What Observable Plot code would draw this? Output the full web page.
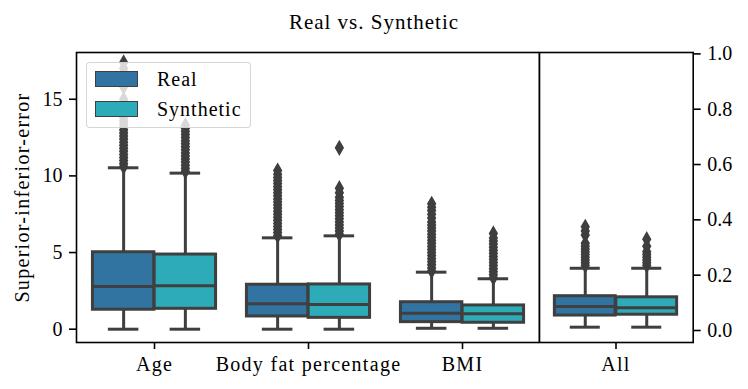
<!DOCTYPE html>
<html><head><meta charset="utf-8">
<script src="https://cdn.jsdelivr.net/npm/d3@7"></script>
<script src="https://cdn.jsdelivr.net/npm/@observablehq/plot@0.6"></script>
<style>
body{margin:0;background:#fff;font-family:"Liberation Serif",serif;}
#fig{position:relative;width:748px;height:389px;overflow:hidden;}
#title{height:40px;text-align:center;font-size:21px;letter-spacing:1px;line-height:36px;padding-top:4px;box-sizing:border-box;color:#000;}
#row{display:flex;align-items:flex-start;}
#legend{position:absolute;left:86px;top:62px;width:165px;height:66px;background:rgba(255,255,255,0.8);border:1.5px solid rgba(204,204,204,0.8);border-radius:4px;box-sizing:border-box;}
.item{position:absolute;left:8px;height:16px;}
.sw{position:absolute;left:0;top:0;width:43px;height:16px;box-sizing:border-box;border:1.5px solid #3f3f3f;}
.lab{position:absolute;left:62px;top:-4px;font-size:20px;letter-spacing:1px;line-height:24px;white-space:nowrap;color:#000;}
</style></head><body>
<div id="fig"><div id="title">Real vs. Synthetic</div><div id="row"></div><div id="legend"></div></div>
<script>
const categories = ["Age", "Body fat percentage", "BMI"];
const overallCategory = ["All"];
const groups = ["Real", "Synthetic"];
const colors = ["#3274a1", "#2eabb8"];
const yLabel = "Superior-inferior-error";
const leftTicks = [0, 5, 10, 15];
const rightTicks = [0, 0.2, 0.4, 0.6, 0.8, 1.0];

// box summaries per category: [lower whisker, q1, median, q3, upper whisker]
const realStats = [[0, 1.27, 2.78, 5.02, 10.53], [0, 0.83, 1.66, 2.90, 5.96], [0.06, 0.46, 1.04, 1.76, 3.72]];
const synthStats = [[0, 1.33, 2.83, 4.87, 10.18], [0, 0.74, 1.61, 2.92, 6.09], [0.06, 0.42, 1.00, 1.55, 3.29]];
const allRealStats = [0.012, 0.054, 0.087, 0.124, 0.225];
const allSynthStats = [0.012, 0.057, 0.082, 0.120, 0.225];

// outliers
const ageRealOut = [10.6,10.8,11.0,11.2,11.4,11.6,11.8,12.0,12.2,12.4,12.6,12.8,13.0,13.2,13.4,13.6,13.8,14.0,14.2,14.4,14.6,14.8,15.0,15.8,16.1,16.4,16.7,17.0,17.4];
const ageSynthOut = [10.3,10.5,10.7,10.9,11.1,11.3,11.5,11.7,11.9,12.1,12.3,12.5,12.7,12.9,13.1,13.3];
const bodyRealOut = [6.1,6.3,6.5,6.7,6.9,7.1,7.3,7.5,7.7,7.9,8.1,8.3,8.5,8.7,8.9,9.1,9.3,9.5,9.7,9.9,10.1,10.35];
const bodySynthOut = [6.2,6.4,6.6,6.8,7.0,7.2,7.4,7.6,7.8,8.0,8.2,8.4,8.6,8.9,9.2,11.83];
const bmiRealOut = [3.8,4.0,4.2,4.4,4.6,4.8,5.0,5.2,5.4,5.6,5.8,6.0,6.2,6.4,6.6,6.8,7.0,7.25,7.5,7.75,7.95,8.18];
const bmiSynthOut = [3.35,3.55,3.75,3.95,4.15,4.35,4.55,4.75,4.95,5.15,5.35,5.55,5.75,5.95,6.25];
const allRealOut = [0.235,0.245,0.255,0.265,0.275,0.285,0.295,0.305,0.315,0.345,0.36,0.375];
const allSynthOut = [0.235,0.245,0.255,0.265,0.275,0.285,0.305,0.33];

const realOut = [ageRealOut, bodyRealOut, bmiRealOut];
const synthOut = [ageSynthOut, bodySynthOut, bmiSynthOut];

function statRow(cat, group, s) { return {cat, group, lo: s[0], q1: s[1], med: s[2], q3: s[3], hi: s[4]}; }

const leftRows = [];
const leftOut = [];
categories.forEach((c, i) => {
  leftRows.push(statRow(c, "Real", realStats[i]));
  leftRows.push(statRow(c, "Synthetic", synthStats[i]));
  realOut[i].forEach(v => leftOut.push({cat: c, group: "Real", value: v}));
  synthOut[i].forEach(v => leftOut.push({cat: c, group: "Synthetic", value: v}));
});
const rightRows = [statRow("All", "Real", allRealStats), statRow("All", "Synthetic", allSynthStats)];
const rightOut = [];
allRealOut.forEach(v => rightOut.push({cat: "All", group: "Real", value: v}));
allSynthOut.forEach(v => rightOut.push({cat: "All", group: "Synthetic", value: v}));

const gray = "#3f3f3f";
const lw = 3;

function boxMarks(rows, outs, W) {
  const marks = [];
  groups.forEach((g, gi) => {
    const r = rows.filter(d => d.group === g);
    const o = outs.filter(d => d.group === g);
    const off = gi === 0 ? -0.2 * W : 0.2 * W;
    const boxL = gi === 0 ? 0.1 * W : 0.5 * W;
    const boxR = gi === 0 ? 0.5 * W : 0.1 * W;
    const capL = gi === 0 ? 0.2 * W : 0.6 * W;
    const capR = gi === 0 ? 0.6 * W : 0.2 * W;
    marks.push(Plot.ruleX(r, {x: "cat", y1: "lo", y2: "hi", dx: off, stroke: gray, strokeWidth: lw}));
    marks.push(Plot.tickY(r, {x: "cat", y: "lo", insetLeft: capL, insetRight: capR, stroke: gray, strokeWidth: lw}));
    marks.push(Plot.tickY(r, {x: "cat", y: "hi", insetLeft: capL, insetRight: capR, stroke: gray, strokeWidth: lw}));
    marks.push(Plot.barY(r, {x: "cat", y1: "q1", y2: "q3", insetLeft: boxL, insetRight: boxR, fill: colors[gi], stroke: gray, strokeWidth: lw}));
    marks.push(Plot.tickY(r, {x: "cat", y: "med", insetLeft: boxL, insetRight: boxR, stroke: gray, strokeWidth: lw}));
    marks.push(Plot.dot(o, {x: "cat", y: "value", dx: off, symbol: "diamond", r: 4, fill: gray, stroke: gray, strokeWidth: 1.5}));
  });
  return marks;
}

const H = 349, mT = 12, mB = 47;
const style = {fontFamily: "Liberation Serif, serif", fontSize: "20px", color: "#000", background: "#fff", overflow: "visible"};

const leftW = 539, leftML = 76;
const WL = (leftW - leftML) / categories.length;
const left = Plot.plot({
  width: leftW, height: H, marginLeft: leftML, marginRight: 0, marginTop: mT, marginBottom: mB,
  style,
  x: {domain: categories, padding: 0, axis: null},
  y: {domain: [-0.868, 18.05], axis: null},
  marks: [
    ...boxMarks(leftRows, leftOut, WL),
    Plot.frame({stroke: "#000", strokeWidth: 1.6}),
    Plot.axisX({tickSize: 7, tickPadding: 7, strokeWidth: 1.6, label: null, fontSize: 20}),
    Plot.axisY({ticks: leftTicks, tickSize: 7, tickPadding: 7, strokeWidth: 1.6, label: null, fontSize: 20}),
    Plot.text([yLabel], {text: d => d, frameAnchor: "left", textAnchor: "middle", dx: -54, rotate: -90, fontSize: 20})
  ]
});

const rightW = 748 - leftW, rightMR = 55.3;
const WR = (rightW - rightMR) / overallCategory.length;
const right = Plot.plot({
  width: rightW, height: H, marginLeft: 0, marginRight: rightMR, marginTop: mT, marginBottom: mB,
  style,
  x: {domain: overallCategory, padding: 0, axis: null},
  y: {domain: [-0.0434, 1.005], axis: null},
  marks: [
    ...boxMarks(rightRows, rightOut, WR),
    Plot.frame({stroke: "#000", strokeWidth: 1.6}),
    Plot.axisX({tickSize: 7, tickPadding: 7, strokeWidth: 1.6, label: null, fontSize: 20}),
    Plot.axisY({anchor: "right", ticks: rightTicks, tickFormat: d3.format(".1f"), tickSize: 7, tickPadding: 7, strokeWidth: 1.6, label: null, fontSize: 20})
  ]
});

const row = document.getElementById("row");
row.appendChild(left);
row.appendChild(right);
for (const svg of [left, right]) {
  svg.querySelectorAll("text").forEach(t => { if (/[A-Za-z]/.test(t.textContent)) t.style.letterSpacing = "1.3px"; });
}

const legend = document.getElementById("legend");
groups.forEach((g, i) => {
  const item = document.createElement("div");
  item.className = "item";
  item.style.top = (8 + i * 30) + "px";
  const sw = document.createElement("div");
  sw.className = "sw";
  sw.style.background = colors[i];
  const lab = document.createElement("div");
  lab.className = "lab";
  lab.textContent = g;
  item.appendChild(sw); item.appendChild(lab);
  legend.appendChild(item);
});
</script>
</body></html>
